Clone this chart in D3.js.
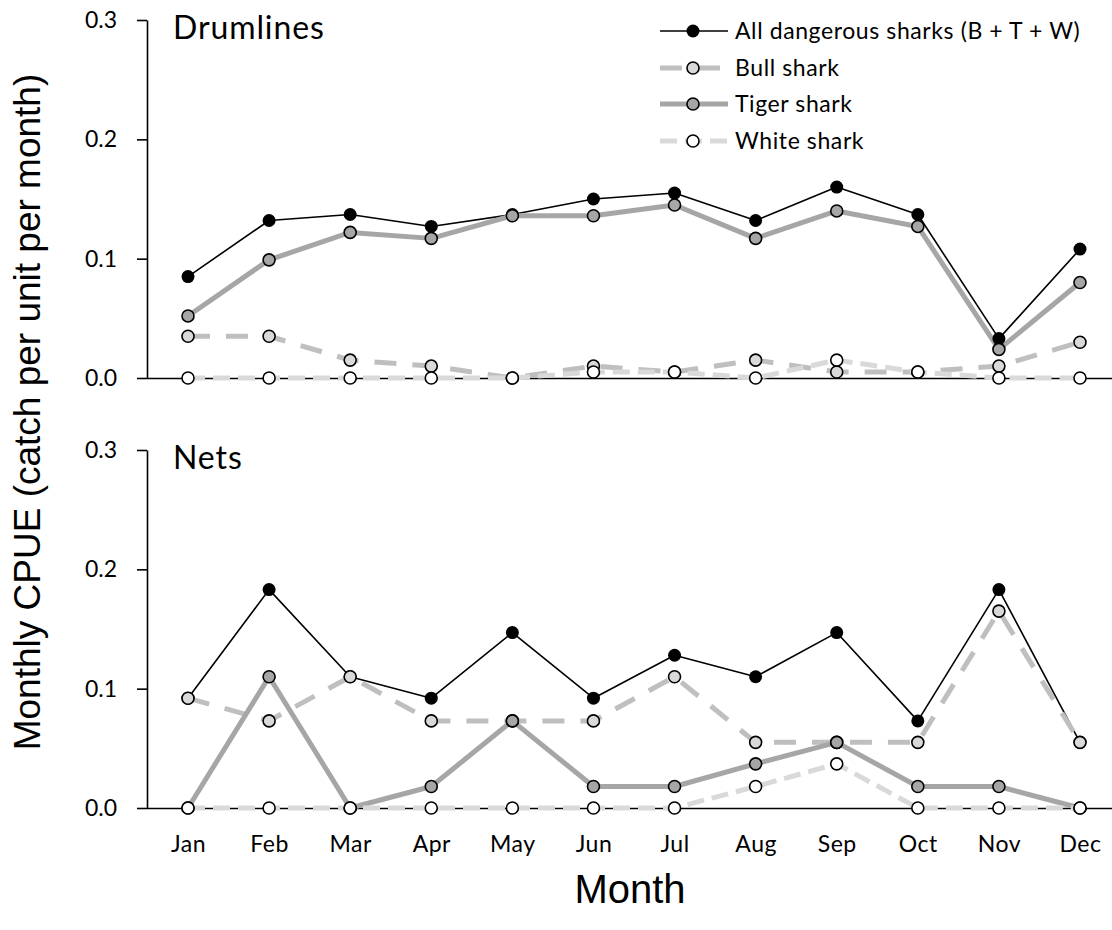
<!DOCTYPE html>
<html><head><meta charset="utf-8">
<script src="https://cdn.jsdelivr.net/npm/d3@7"></script>
<style>body{margin:0;background:#fff}</style>
</head><body>
<svg id="c" width="1112" height="930"></svg>
<script>
const months = ["Jan","Feb","Mar","Apr","May","Jun","Jul","Aug","Sep","Oct","Nov","Dec"];
const yTicks = [0, 0.1, 0.2, 0.3];

// Drumlines
const drumAll   = [0.085,0.132,0.137,0.127,0.137,0.150,0.155,0.132,0.160,0.137,0.033,0.108];
const drumBull  = [0.035,0.035,0.015,0.010,0.000,0.010,0.005,0.015,0.005,0.005,0.010,0.030];
const drumTiger = [0.052,0.099,0.122,0.117,0.136,0.136,0.145,0.117,0.140,0.127,0.024,0.080];
const drumWhite = [0.000,0.000,0.000,0.000,0.000,0.005,0.005,0.000,0.015,0.005,0.000,0.000];

// Nets
const netsAll   = [0.092,0.183,0.110,0.092,0.147,0.092,0.128,0.110,0.147,0.073,0.183,0.055];
const netsBull  = [0.092,0.073,0.110,0.073,0.073,0.073,0.110,0.055,0.055,0.055,0.165,0.055];
const netsTiger = [0.000,0.110,0.000,0.018,0.073,0.018,0.018,0.037,0.055,0.018,0.018,0.000];
const netsWhite = [0.000,0.000,0.000,0.000,0.000,0.000,0.000,0.018,0.037,0.000,0.000,0.000];

const seriesNames = ["All dangerous sharks (B + T + W)","Bull shark","Tiger shark","White shark"];

const styles = [
  {stroke:"#000", width:1.6, dash:null, fill:"#000", r:6.5, sw:0},
  {stroke:"#bfbfbf", width:5, dash:"22,16", fill:"#d9d9d9", r:6, sw:1.6},
  {stroke:"#a6a6a6", width:5, dash:null, fill:"#a6a6a6", r:6, sw:1.6},
  {stroke:"#d9d9d9", width:5, dash:"17,8", fill:"#fff", r:6, sw:1.6}
];

const svg = d3.select("#c");
const tickFont = "Lato, 'Open Sans', sans-serif";

const x = d3.scalePoint().domain(months).range([188, 1080]);

const panels = [
  {title:"Drumlines", data:[drumAll,drumBull,drumTiger,drumWhite], top:20, bottom:378, labels:false},
  {title:"Nets", data:[netsAll,netsBull,netsTiger,netsWhite], top:450, bottom:808, labels:true}
];

panels.forEach(p => {
  const y = d3.scaleLinear().domain([0,0.3]).range([p.bottom, p.top]);
  const g = svg.append("g");

  const xa = g.append("g").attr("transform",`translate(0,${p.bottom})`)
    .call(d3.axisBottom(x).tickSize(0).tickPadding(28));
  xa.select(".domain").attr("d","M147,0.5H1112").attr("stroke","#000").attr("stroke-width",1.6);
  xa.selectAll("text").attr("font-family",tickFont).attr("font-size",23).attr("fill","#000")
    .attr("letter-spacing",0.5)
    .style("display", p.labels ? null : "none");

  const ya = g.append("g").attr("transform","translate(147,0)")
    .call(d3.axisLeft(y).tickValues(yTicks).tickFormat(d3.format(".1f")).tickSize(10).tickSizeOuter(0).tickPadding(20));
  ya.select(".domain").attr("stroke-width",1.6);
  ya.selectAll(".tick line").attr("stroke-width",1.6);
  ya.selectAll("text").attr("font-family",tickFont).attr("font-size",23).attr("fill","#000");

  g.append("text").attr("x",173).attr("y",p.top+19).text(p.title)
    .attr("font-family",tickFont).attr("font-size",32).attr("letter-spacing",0.9).attr("fill","#000");

  const line = d3.line().x((d,i)=>x(months[i])).y(d=>y(d));
  p.data.forEach((vals, si) => {
    const s = styles[si];
    g.append("path").attr("d", line(vals)).attr("fill","none")
      .attr("stroke", s.stroke).attr("stroke-width", s.width)
      .attr("stroke-dasharray", s.dash).attr("stroke-linejoin","round");
  });
  p.data.forEach((vals, si) => {
    const s = styles[si];
    g.append("g").selectAll("circle").data(vals).join("circle")
      .attr("cx",(d,i)=>x(months[i])).attr("cy",d=>y(d)).attr("r",s.r)
      .attr("fill",s.fill).attr("stroke","#000").attr("stroke-width",s.sw);
  });
});

const lg = svg.append("g");
const legY = [31, 68, 104, 141];
seriesNames.forEach((name, i) => {
  const s = styles[i];
  const row = lg.append("g").attr("transform",`translate(0,${legY[i]})`);
  row.append("line").attr("x1",660).attr("x2",728).attr("y1",0).attr("y2",0)
    .attr("stroke",s.stroke).attr("stroke-width",s.width).attr("stroke-dasharray",s.dash);
  row.append("circle").attr("cx",693).attr("cy",0).attr("r",s.r)
    .attr("fill",s.fill).attr("stroke","#000").attr("stroke-width",s.sw);
  row.append("text").attr("x",735).attr("y",0).attr("dy","0.35em").text(name)
    .attr("font-family",tickFont).attr("font-size",23).attr("letter-spacing",0.6).attr("fill","#000");
});

svg.append("text").attr("transform","translate(40,412) rotate(-90)")
  .attr("text-anchor","middle").text("Monthly CPUE (catch per unit per month)")
  .attr("font-family","'Liberation Sans', Arial, sans-serif").attr("font-size",37).attr("fill","#000");
svg.append("text").attr("x",630).attr("y",903).attr("text-anchor","middle").text("Month")
  .attr("font-family","'Liberation Sans', Arial, sans-serif").attr("font-size",40).attr("fill","#000");
</script>
</body></html>
